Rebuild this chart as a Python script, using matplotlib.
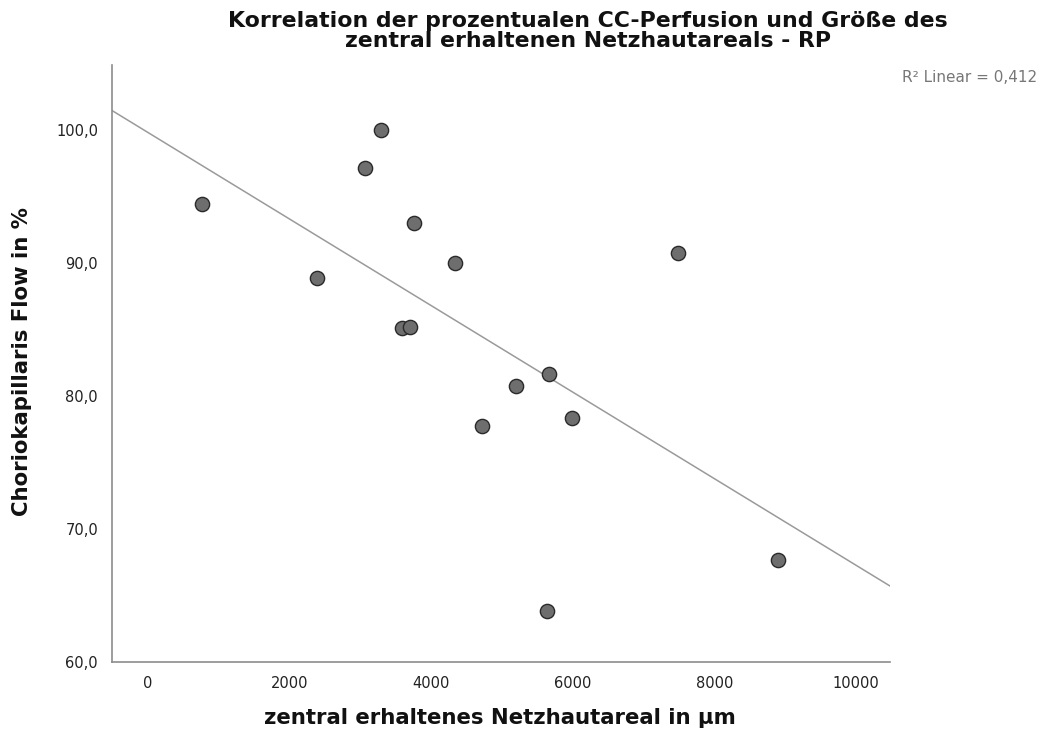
"""Scatter of CC perfusion against preserved central retina area, with linear fit."""

import matplotlib

matplotlib.use("Agg")
import matplotlib.pyplot as plt
import numpy as np
from matplotlib.ticker import FuncFormatter, FixedLocator

# Measurements per eye (RP cohort)
area_um = [763, 2387, 3065, 3291, 3757, 3588, 3701, 4336, 4718, 5198, 5664, 5989, 5636, 7486, 8898]
cc_flow = [94.44, 88.87, 97.14, 100.0, 93.0, 85.11, 85.19, 90.0, 77.74, 80.75, 81.65, 78.35, 63.83, 90.75, 67.67]
r2_text = "0,412"

x_ticks = [0, 2000, 4000, 6000, 8000, 10000]
y_ticks = [60, 70, 80, 90, 100]
x_range = (-508, 10480)
y_range = (60, 104.9)

TITLE = "Korrelation der prozentualen CC-Perfusion und Größe des\nzentral erhaltenen Netzhautareals - RP"
XLABEL = "zentral erhaltenes Netzhautareal in µm"
YLABEL = "Choriokapillaris Flow in %"


def main() -> None:
    fig = plt.figure(figsize=(10.41, 7.38), dpi=100)
    ax = fig.add_axes([112 / 1041, 1 - 662 / 738, (890 - 112) / 1041, (662 - 65) / 738])

    x = np.asarray(area_um, dtype=float)
    y = np.asarray(cc_flow, dtype=float)
    slope, intercept = np.polyfit(x, y, 1)
    xs = np.array(x_range)
    ax.plot(xs, intercept + slope * xs, color="#9a9a9a", lw=1.1, zorder=1)
    ax.scatter(x, y, s=105, color="#6e6e6e", edgecolors="#2a2a2a", linewidths=1.0, zorder=2)

    ax.set_xlim(*x_range)
    ax.set_ylim(*y_range)
    ax.xaxis.set_major_locator(FixedLocator(x_ticks))
    ax.yaxis.set_major_locator(FixedLocator(y_ticks))
    ax.yaxis.set_major_formatter(FuncFormatter(lambda v, _: f"{v:.1f}".replace(".", ",")))
    ax.xaxis.set_major_formatter(FuncFormatter(lambda v, _: f"{v:.0f}"))
    ax.tick_params(length=0, labelsize=10.5, labelcolor="#222222")
    ax.tick_params(axis="y", pad=10)
    ax.tick_params(axis="x", pad=10)
    for side in ("top", "right"):
        ax.spines[side].set_visible(False)
    for side in ("left", "bottom"):
        ax.spines[side].set_color("#8c8c8c")
        ax.spines[side].set_linewidth(1.2)

    bold = dict(family="DejaVu Sans", weight="bold", fontsize=15.3, color="#111111")
    fig.text(588 / 1041, 1 - 31 / 738, TITLE, ha="center", va="center", linespacing=1.02,
             **{**bold, "fontsize": 15.8})
    fig.text(500 / 1041, 1 - 718 / 738, XLABEL, ha="center", va="center", **bold)
    fig.text(22 / 1041, 1 - 362 / 738, YLABEL, ha="center", va="center", rotation=90, **bold)
    fig.text(1037 / 1041, 1 - 78 / 738, f"R² Linear = {r2_text}", ha="right", va="center",
             fontsize=11, color="#777777", family="DejaVu Sans")

    fig.savefig("out.png", dpi=100)
    plt.close(fig)


if __name__ == "__main__":
    main()
